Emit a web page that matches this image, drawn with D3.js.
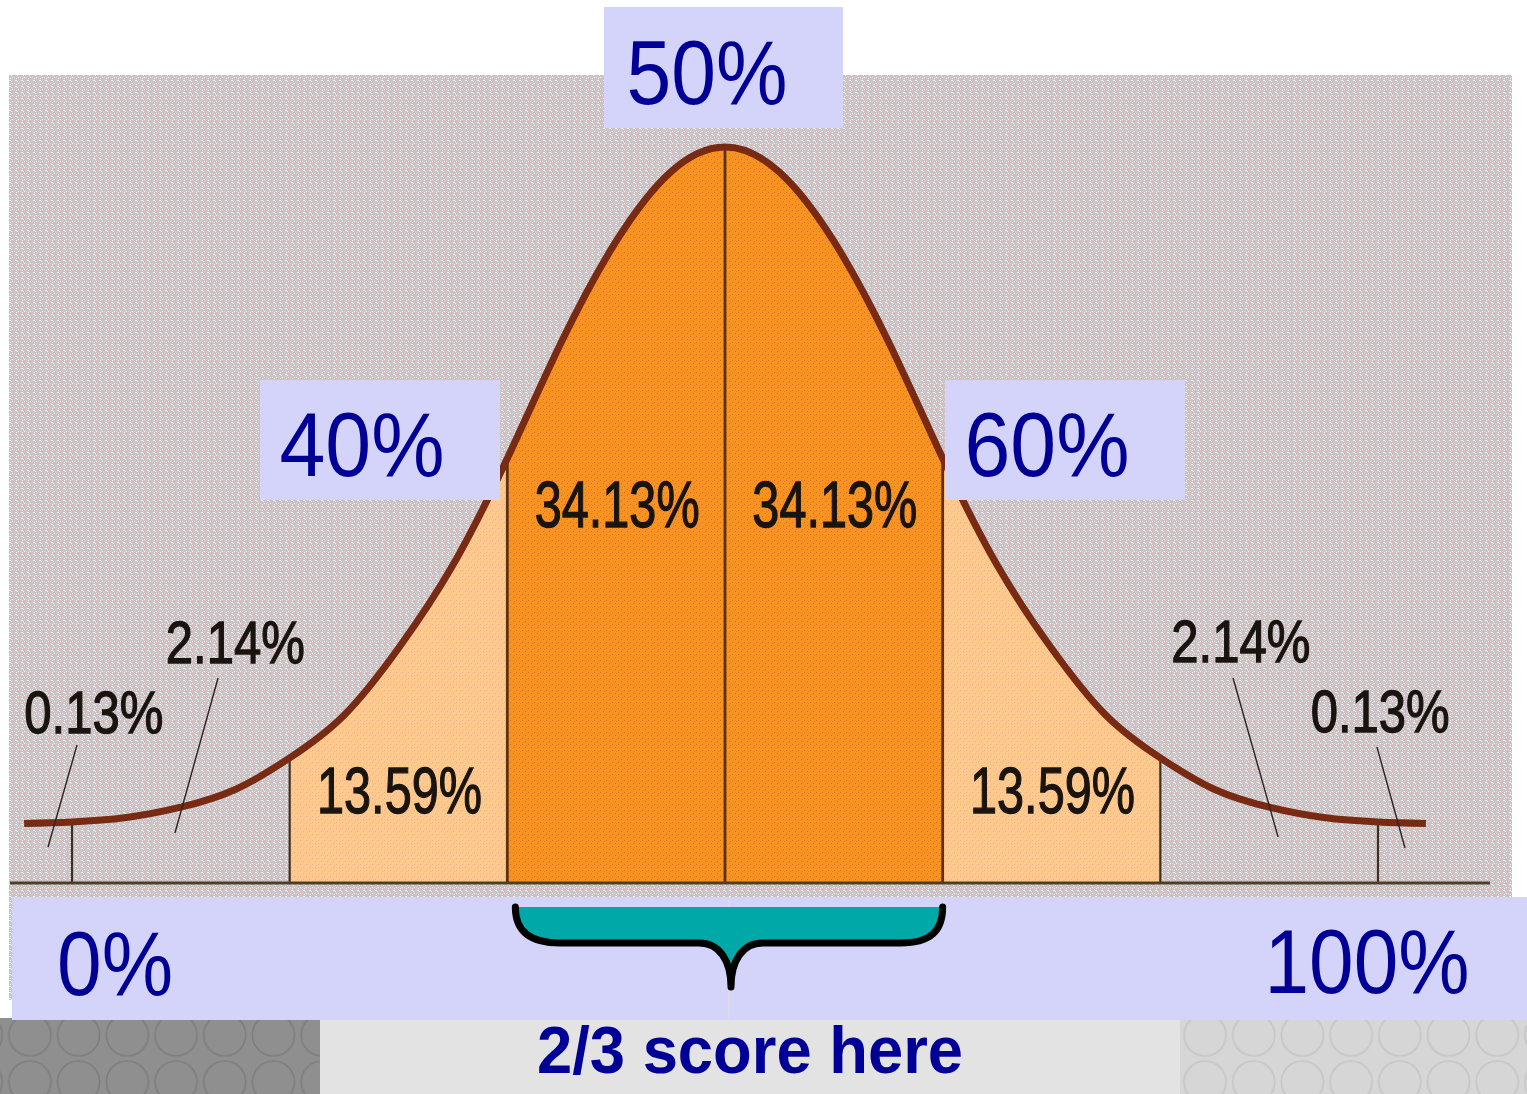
<!DOCTYPE html>
<html>
<head>
<meta charset="utf-8">
<script src="https://cdn.jsdelivr.net/npm/d3@7"></script>
<style>
  body { margin: 0; background: #fff; }
  svg { display: block; }
</style>
</head>
<body>
<div id="chart"></div>
<script>
// curve: z (in sigma) and height relative to the peak
const zPoints = [-3.22, -3, -2.75, -2.5, -2.25, -2, -1.75, -1.5, -1.25, -1, -0.75, -0.5, -0.25, 0,
                 0.25, 0.5, 0.75, 1, 1.25, 1.5, 1.75, 2, 2.25, 2.5, 2.75, 3, 3.22];
const curveHeights = [0.081, 0.083, 0.089, 0.103, 0.127, 0.170, 0.228, 0.319, 0.432, 0.577, 0.736, 0.872, 0.966, 1.0,
                      0.966, 0.872, 0.736, 0.577, 0.432, 0.319, 0.228, 0.170, 0.127, 0.103, 0.089, 0.083, 0.081];
const sigmaMarks = [-3, -2, -1, 0, 1, 2, 3];
const bandEdges = [-2, -1, 0, 1, 2];
const bandPercents = ["13.59%", "34.13%", "34.13%", "13.59%"];
const tailPercents = ["0.13%", "2.14%", "2.14%", "0.13%"];
const percentileLabels = ["0%", "40%", "50%", "60%", "100%"];
const footnote = "2/3 score here";

const W = 1527, H = 1094;
const x = d3.scaleLinear().domain([-3, 3]).range([72, 1378]);
const y = d3.scaleLinear().domain([0, 1]).range([883, 147]);

const svg = d3.select("#chart").append("svg").attr("width", W).attr("height", H);
const defs = svg.append("defs");

// speckled textures like the scanned picture
function speckle(id, base, dots) {
  const p = defs.append("pattern").attr("id", id)
    .attr("width", 6).attr("height", 6).attr("patternUnits", "userSpaceOnUse");
  p.append("rect").attr("width", 6).attr("height", 6).attr("fill", base);
  dots.forEach(d => p.append("rect").attr("x", d[0]).attr("y", d[1])
    .attr("width", 1).attr("height", 1).attr("fill", d[2]));
}
speckle("bgTex", "#c6c3c4", [[0,0,"#efb9bb"],[2,1,"#eebcbd"],[4,0,"#f5f2f3"],[1,3,"#efb9bb"],[3,4,"#f0bdbf"],
  [5,3,"#f5f1f3"],[0,5,"#f7f3f5"],[4,2,"#f7f3f5"],[2,5,"#e8d0e8"],[5,5,"#efbcbd"],[3,2,"#f4eef0"]]);
speckle("orangeTex", "#f7931f", [[0,0,"#e2682c"],[3,3,"#e2682c"],[1,4,"#d19a3c"],[4,1,"#e87a32"]]);
speckle("lightTex", "#fdca8b", [[0,0,"#f2a89c"],[3,3,"#f0b096"],[1,4,"#d9cd95"],[4,1,"#f6b88e"]]);

function circles(id, px, py, base, line) {
  const p = defs.append("pattern").attr("id", id).attr("patternUnits", "userSpaceOnUse")
    .attr("x", px).attr("y", py).attr("width", 48.7).attr("height", 47);
  p.append("rect").attr("width", 48.7).attr("height", 47).attr("fill", base);
  p.append("circle").attr("cx", 24.35).attr("cy", 23.5).attr("r", 21)
    .attr("fill", "none").attr("stroke", line).attr("stroke-width", 1.6);
}
circles("darkDots", 5.6, 1011.5, "#8f8f8f", "#7d7d7d");
circles("lightDots", 1180.7, 1011.5, "#d6d6d6", "#c5c5c5");

// background panel
svg.append("rect").attr("x", 9).attr("y", 75).attr("width", 1503).attr("height", 925)
  .attr("fill", "url(#bgTex)");

const pts = zPoints.map((z, i) => [z, curveHeights[i]]);
const area = d3.area().x(d => x(d[0])).y0(y(0)).y1(d => y(d[1])).curve(d3.curveNatural);
const line = d3.line().x(d => x(d[0])).y(d => y(d[1])).curve(d3.curveNatural);

// shaded bands under the curve
const bandFill = i => (i === 1 || i === 2) ? "url(#orangeTex)" : "url(#lightTex)";
bandPercents.forEach((p, i) => {
  const a = bandEdges[i], b = bandEdges[i + 1];
  defs.append("clipPath").attr("id", "band" + i)
    .append("rect").attr("x", x(a)).attr("y", 0).attr("width", x(b) - x(a)).attr("height", y(0));
  svg.append("path").datum(pts).attr("d", area)
    .attr("fill", bandFill(i)).attr("clip-path", `url(#band${i})`);
});

// sigma lines
const heightAt = z => curveHeights[zPoints.indexOf(z)];
svg.selectAll("line.sigma").data(sigmaMarks).join("line").attr("class", "sigma")
  .attr("x1", d => x(d)).attr("x2", d => x(d))
  .attr("y1", y(0)).attr("y2", d => y(heightAt(d)))
  .attr("stroke", d => Math.abs(d) <= 1 ? "#5e3210" : "#3e3020")
  .attr("stroke-width", d => Math.abs(d) <= 1 ? 2.8 : 2.2);

// baseline
svg.append("line").attr("x1", 10).attr("x2", 1490).attr("y1", y(0)).attr("y2", y(0))
  .attr("stroke", "#4f3e26").attr("stroke-width", 3);

// the curve
svg.append("path").datum(pts).attr("d", line)
  .attr("fill", "none").attr("stroke", "#782a12").attr("stroke-width", 7);

// band percentages
const bandTextY = [813, 527, 527, 813];
const darkText = sel => sel
  .attr("font-family", "Liberation Sans, Arial, sans-serif")
  .attr("fill", "#1a1410").attr("stroke", "#1a1410").attr("stroke-width", 1.3);
svg.selectAll("text.band").data(bandPercents).join("text").attr("class", "band")
  .attr("x", (d, i) => x((bandEdges[i] + bandEdges[i + 1]) / 2) + 1)
  .attr("y", (d, i) => bandTextY[i])
  .attr("text-anchor", "middle")
  .attr("textLength", 165).attr("lengthAdjust", "spacingAndGlyphs")
  .attr("font-size", 64).call(darkText).text(d => d);

// tail percentages with leader lines
const tailAnchors = [[-2.9, 0.2038], [-2.25, 0.2989], [2.37, 0.3003], [3.01, 0.2052]];
const tailLeaders = [[-2.977, 0.1875, -3.11, 0.049], [-2.329, 0.2785, -2.527, 0.068],
                     [2.334, 0.2785, 2.541, 0.0625], [2.995, 0.185, 3.124, 0.0476]];
svg.selectAll("text.tail").data(tailPercents).join("text").attr("class", "tail")
  .attr("x", (d, i) => x(tailAnchors[i][0])).attr("y", (d, i) => y(tailAnchors[i][1]))
  .attr("text-anchor", "middle")
  .attr("textLength", 139).attr("lengthAdjust", "spacingAndGlyphs")
  .attr("font-size", 60).call(darkText).text(d => d);
svg.selectAll("line.leader").data(tailLeaders).join("line").attr("class", "leader")
  .attr("x1", d => x(d[0])).attr("y1", d => y(d[1]))
  .attr("x2", d => x(d[2])).attr("y2", d => y(d[3]))
  .attr("stroke", "#2a2420").attr("stroke-width", 1.4);

// lavender label boxes
const lav = "#d4d4fa", navy = "#000096";
const boxes = [[604, 7, 239, 121], [260, 380, 240, 120], [945, 380, 240, 120]];
svg.selectAll("rect.box").data(boxes).join("rect").attr("class", "box")
  .attr("x", d => d[0]).attr("y", d => d[1]).attr("width", d => d[2]).attr("height", d => d[3])
  .attr("fill", lav);

// bottom strip
svg.append("rect").attr("x", 0).attr("y", 1018).attr("width", 320).attr("height", 76).attr("fill", "url(#darkDots)");
svg.append("rect").attr("x", 320).attr("y", 1018).attr("width", 860).attr("height", 76).attr("fill", "#e3e3e3");
svg.append("rect").attr("x", 1180).attr("y", 1018).attr("width", 347).attr("height", 76).attr("fill", "url(#lightDots)");

// bottom band
svg.append("rect").attr("x", 12).attr("y", 897).attr("width", W - 12).attr("height", 123).attr("fill", lav);
svg.append("line").attr("x1", 729).attr("x2", 729).attr("y1", 897).attr("y2", 1020)
  .attr("stroke", "#e6dcc8").attr("stroke-width", 1);

// percentile labels
const pctPos = [[115, 995, 116], [362, 476, 165], [707, 104, 161], [1047, 476, 165], [1367, 993, 205]];
svg.selectAll("text.pct").data(percentileLabels).join("text").attr("class", "pct")
  .attr("x", (d, i) => pctPos[i][0]).attr("y", (d, i) => pctPos[i][1])
  .attr("text-anchor", "middle")
  .attr("textLength", (d, i) => pctPos[i][2]).attr("lengthAdjust", "spacingAndGlyphs")
  .attr("font-family", "Liberation Sans, Arial, sans-serif").attr("font-size", 90)
  .attr("fill", navy).text(d => d);

// brace spanning -1 to +1 sigma
const bl = x(-1) + 8, br = x(1), bt = 907, bh = 943, tipX = 731, tipY = 987;
const brace = `M${bl},${bt} C${bl},${bt + 25} ${bl + 15},${bh} ${bl + 45},${bh} L${tipX - 32},${bh}
  C${tipX - 12},${bh} ${tipX},${bh + 17} ${tipX},${tipY} C${tipX},${bh + 17} ${tipX + 12},${bh} ${tipX + 32},${bh}
  L${br - 42},${bh} C${br - 12},${bh} ${br},${bh - 12} ${br},${bt}`;
svg.append("path").attr("d", brace)
  .attr("fill", "#00a8a8").attr("stroke", "#000").attr("stroke-width", 7)
  .attr("stroke-linecap", "round").attr("stroke-linejoin", "round");

svg.append("text").attr("x", 750).attr("y", 1073).attr("text-anchor", "middle")
  .attr("textLength", 426).attr("lengthAdjust", "spacingAndGlyphs")
  .attr("font-family", "Liberation Sans, Arial, sans-serif").attr("font-weight", "bold")
  .attr("font-size", 66).attr("fill", navy).text(footnote);
</script>
</body>
</html>
